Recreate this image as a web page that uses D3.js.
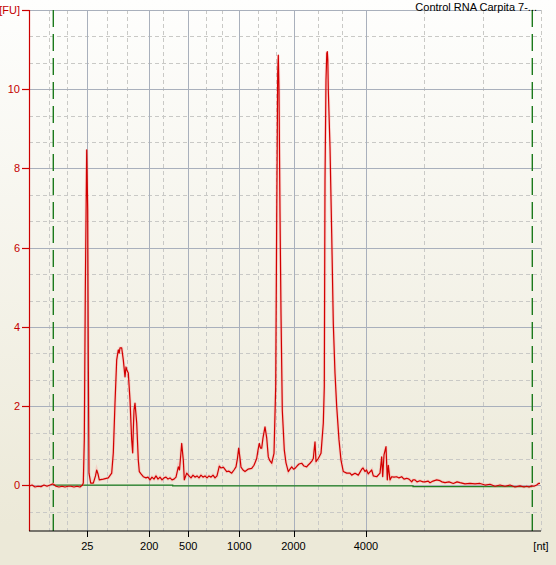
<!DOCTYPE html>
<html>
<head>
<meta charset="utf-8">
<script src="https://cdn.jsdelivr.net/npm/d3@7"></script>
<style>
  html, body { margin: 0; padding: 0; background: #ece9d8; }
  svg { display: block; }
  text { font-family: "Liberation Sans", Arial, sans-serif; font-size: 11px; }
</style>
</head>
<body>
<svg id="chart"></svg>
<script>
// electropherogram, x is migration time (s), labels are ladder sizes in nt
const timeSec = [
  17.00, 17.30, 17.60, 17.90, 18.20, 18.50, 18.80, 19.10, 19.40, 19.70,
  20.00, 20.30, 20.60, 20.90, 21.20, 21.50, 21.80, 22.10, 22.35, 22.43,
  22.53, 22.63, 22.77, 22.87, 22.93, 23.00, 23.17, 23.43, 23.65, 23.77,
  23.90, 24.03, 24.43, 24.93, 25.27, 25.43, 25.60, 25.77, 25.93, 26.02,
  26.10, 26.27, 26.43, 26.60, 26.70, 26.77, 26.93, 27.10, 27.27, 27.37,
  27.43, 27.50, 27.60, 27.77, 27.93, 28.03, 28.20, 28.43, 28.70, 28.90,
  29.10, 29.30, 29.50, 29.70, 29.90, 30.10, 30.30, 30.50, 30.70, 30.90,
  31.10, 31.30, 31.50, 31.70, 31.93, 32.05, 32.27, 32.43, 32.53, 32.77,
  33.00, 33.20, 33.40, 33.60, 33.80, 34.00, 34.20, 34.40, 34.60, 34.80,
  35.00, 35.20, 35.40, 35.60, 35.80, 36.03, 36.20, 36.43, 36.77, 37.00,
  37.27, 37.50, 37.70, 37.85, 37.97, 38.10, 38.20, 38.40, 38.60, 38.90,
  39.27, 39.50, 39.77, 39.90, 40.03, 40.15, 40.27, 40.40, 40.60, 40.77,
  40.93, 41.05, 41.27, 41.50, 41.67, 41.77, 41.87, 41.93, 42.00, 42.10,
  42.20, 42.33, 42.53, 42.70, 42.93, 43.10, 43.27, 43.45, 43.60, 43.80,
  44.00, 44.27, 44.50, 44.77, 44.90, 45.10, 45.30, 45.43, 45.53, 45.60,
  45.70, 45.93, 46.20, 46.43, 46.53, 46.60, 46.70, 46.78, 46.83, 46.88,
  46.93, 47.10, 47.27, 47.43, 47.60, 47.77, 48.00, 48.20, 48.43, 48.77,
  49.10, 49.27, 49.60, 49.93, 50.27, 50.40, 50.60, 50.75, 50.93, 51.10,
  51.27, 51.43, 51.77, 52.10, 52.27, 52.37, 52.50, 52.70, 52.83, 52.93,
  53.10, 53.27, 53.50, 53.77, 54.00, 54.27, 54.50, 54.77, 55.00, 55.27,
  55.40, 55.60, 55.80, 56.10, 56.40, 56.60, 56.90, 57.10, 57.40, 57.77,
  58.10, 58.30, 58.60, 59.00, 59.43, 59.80, 60.10, 60.60, 61.10, 61.60,
  62.10, 62.60, 63.10, 63.60, 64.10, 64.60, 65.10, 65.60, 66.10, 66.50,
  66.77, 67.00, 67.27, 67.50, 67.77, 67.95, 68.10
];
const fluor = [
  -0.02, 0.01, -0.04, -0.02, -0.03, 0.01, -0.02, 0.01, 0.04, -0.02,
  -0.04, -0.02, -0.04, -0.02, -0.02, -0.04, -0.02, -0.04, 0.01, 0.06,
  1.15, 4.86, 8.47, 6.95, 3.17, 0.31, 0.06, 0.06, 0.24, 0.39,
  0.29, 0.14, 0.16, 0.19, 0.31, 0.82, 2.08, 3.17, 3.42, 3.34,
  3.47, 3.47, 3.17, 2.74, 2.99, 2.92, 2.84, 2.16, 1.14, 0.82,
  1.40, 1.90, 2.08, 1.58, 0.64, 0.35, 0.29, 0.22, 0.19, 0.21,
  0.14, 0.21, 0.16, 0.24, 0.16, 0.21, 0.14, 0.19, 0.21, 0.16,
  0.19, 0.14, 0.16, 0.21, 0.47, 0.39, 1.06, 0.64, 0.14, 0.31,
  0.24, 0.19, 0.26, 0.21, 0.24, 0.19, 0.26, 0.21, 0.24, 0.19,
  0.24, 0.21, 0.26, 0.19, 0.24, 0.49, 0.44, 0.46, 0.35, 0.36,
  0.31, 0.39, 0.47, 0.69, 0.94, 0.69, 0.46, 0.39, 0.35, 0.41,
  0.43, 0.51, 0.68, 0.89, 1.06, 0.94, 0.94, 1.20, 1.48, 1.20,
  0.72, 0.64, 0.56, 0.81, 2.49, 6.70, 10.40, 10.86, 9.98, 6.87,
  4.34, 1.90, 0.89, 0.57, 0.35, 0.41, 0.47, 0.41, 0.43, 0.49,
  0.54, 0.56, 0.49, 0.47, 0.51, 0.56, 0.62, 0.68, 0.94, 1.10,
  0.60, 0.68, 0.81, 1.57, 2.49, 7.71, 10.23, 10.91, 10.95, 10.74,
  9.98, 8.55, 6.36, 4.09, 2.83, 1.99, 1.15, 0.64, 0.35, 0.31,
  0.31, 0.26, 0.31, 0.26, 0.41, 0.44, 0.35, 0.39, 0.29, 0.34,
  0.39, 0.24, 0.22, 0.31, 0.72, 0.22, 0.77, 0.98, 0.14, 0.51,
  0.14, 0.22, 0.21, 0.22, 0.19, 0.22, 0.16, 0.18, 0.16, 0.09,
  0.14, 0.14, 0.09, 0.12, 0.09, 0.09, 0.11, 0.07, 0.11, 0.14,
  0.12, 0.09, 0.07, 0.09, 0.05, 0.09, 0.07, 0.04, 0.05, 0.04,
  0.05, 0.01, 0.03, -0.02, 0.01, -0.02, 0.01, -0.04, -0.01, -0.04,
  -0.02, -0.04, -0.01, -0.02, 0.01, 0.05, 0.05
];

// baseline drawn by the software (small steps)
const baseTime = [19.43, 31.37, 31.37, 55.40, 55.40, 67.33];
const baseValue = [0.01, 0.01, -0.01, -0.01, -0.03, -0.03];

// ladder positions and labels
const ladderTime = [22.83, 29.03, 32.93, 38.03, 43.45, 50.70];
const ladderLabels = ['25', '200', '500', '1000', '2000', '4000'];
const minorTime = [18.97, 20.83, 24.83, 26.83, 30.37, 34.67, 36.33, 39.87,
                   41.67, 45.93, 48.33, 56.53, 62.37, 68.20];
const markerTime = [19.43, 67.33];   // lower / upper marker lines
const yTicks = [0, 2, 4, 6, 8, 10];

const title = 'Control RNA Carpita 7-...';

const W = 556, H = 565;
const svg = d3.select('#chart').attr('width', W).attr('height', H);

const x = d3.scaleLinear().domain([17, 68.2]).range([29, 541]);
const y = d3.scaleLinear().domain([-1.15, 12]).range([531, 10]);

// background gradient, white at the top fading into the window colour
const grad = svg.append('defs').append('linearGradient')
    .attr('id', 'bg').attr('x1', 0).attr('y1', 0).attr('x2', 0).attr('y2', 1);
grad.append('stop').attr('offset', '0%').attr('stop-color', '#fefefd');
grad.append('stop').attr('offset', '93%').attr('stop-color', '#ece9d8');
grad.append('stop').attr('offset', '100%').attr('stop-color', '#ece9d8');
svg.append('rect').attr('width', W).attr('height', H).attr('fill', 'url(#bg)');

const grid = svg.append('g');

// minor grid, every third of a major step
let yMinor = d3.range(-1, 19).map(k => k * 2 / 3).filter((v, i) => (i + 2) % 3 !== 0 && v <= 12);
grid.selectAll('line.hminor')
    .data(yMinor)
    .join('line')
    .attr('x1', x.range()[0]).attr('x2', x.range()[1])
    .attr('y1', d => Math.round(y(d)) + 0.5).attr('y2', d => Math.round(y(d)) + 0.5)
    .attr('stroke', '#c9c9c6').attr('stroke-dasharray', '4,3');

grid.selectAll('line.vminor')
    .data(minorTime)
    .join('line')
    .attr('x1', d => Math.round(x(d)) + 0.5).attr('x2', d => Math.round(x(d)) + 0.5)
    .attr('y1', y.range()[1]).attr('y2', y.range()[0])
    .attr('stroke', '#c9c9c6').attr('stroke-dasharray', '4,3');

// major grid
grid.selectAll('line.hmajor')
    .data(yTicks.concat([12]))
    .join('line')
    .attr('x1', x.range()[0]).attr('x2', x.range()[1])
    .attr('y1', d => Math.round(y(d)) + 0.5).attr('y2', d => Math.round(y(d)) + 0.5)
    .attr('stroke', '#a9b0bc');

grid.selectAll('line.vmajor')
    .data(ladderTime)
    .join('line')
    .attr('x1', d => Math.round(x(d)) + 0.5).attr('x2', d => Math.round(x(d)) + 0.5)
    .attr('y1', y.range()[1]).attr('y2', y.range()[0])
    .attr('stroke', '#a9b0bc');

// marker lines
svg.selectAll('line.marker')
    .data(markerTime)
    .join('line')
    .attr('x1', d => x(d)).attr('x2', d => x(d))
    .attr('y1', y.range()[1]).attr('y2', y.range()[0])
    .attr('stroke', '#1c7a1c').attr('stroke-width', 1.4)
    .attr('stroke-dasharray', '17,7');

// baseline
let baseLine = d3.line().x(d => x(d[0])).y(d => y(d[1]));
svg.append('path')
    .datum(d3.zip(baseTime, baseValue))
    .attr('d', baseLine)
    .attr('fill', 'none')
    .attr('stroke', '#1f801f')
    .attr('stroke-width', 1.3);

// trace, with a faint halo like the original antialiasing
let trace = d3.line().x(d => x(d[0])).y(d => y(d[1]));
let pts = d3.zip(timeSec, fluor);
svg.append('path')
    .datum(pts)
    .attr('d', trace)
    .attr('fill', 'none')
    .attr('stroke', '#ff8080')
    .attr('stroke-opacity', 0.25)
    .attr('stroke-width', 3);
svg.append('path')
    .datum(pts)
    .attr('d', trace)
    .attr('fill', 'none')
    .attr('stroke', '#d20000')
    .attr('stroke-width', 1.2)
    .attr('stroke-linejoin', 'round');

// y axis (red)
const yAxis = svg.append('g');
yAxis.append('line')
    .attr('x1', 29.5).attr('x2', 29.5)
    .attr('y1', y.range()[1]).attr('y2', y.range()[0])
    .attr('stroke', '#cc0000').attr('stroke-width', 1.2);
yAxis.selectAll('line.tick')
    .data(yTicks.concat([12]))
    .join('line')
    .attr('x1', 22).attr('x2', 29.5)
    .attr('y1', d => Math.round(y(d)) + 0.5).attr('y2', d => Math.round(y(d)) + 0.5)
    .attr('stroke', '#cc0000').attr('stroke-width', 1.2);
yAxis.selectAll('text')
    .data(yTicks.map(String).concat(['[FU]']))
    .join('text')
    .attr('x', 20)
    .attr('y', (d, i) => y(i < yTicks.length ? yTicks[i] : 12))
    .attr('dy', '0.36em')
    .attr('text-anchor', 'end')
    .attr('fill', '#c40000')
    .text(d => d);

// x axis (black)
const xAxis = svg.append('g');
xAxis.append('line')
    .attr('x1', 29).attr('x2', 541)
    .attr('y1', 531).attr('y2', 531)
    .attr('stroke', '#000').attr('stroke-width', 1.2);
xAxis.selectAll('line.tick')
    .data(ladderTime)
    .join('line')
    .attr('x1', d => Math.round(x(d)) + 0.5).attr('x2', d => Math.round(x(d)) + 0.5)
    .attr('y1', 531).attr('y2', 537)
    .attr('stroke', '#000');
xAxis.selectAll('text.lab')
    .data(ladderTime)
    .join('text')
    .attr('x', d => x(d))
    .attr('y', 550)
    .attr('text-anchor', 'middle')
    .attr('fill', '#000')
    .text((d, i) => ladderLabels[i]);
xAxis.append('text')
    .attr('x', 541).attr('y', 550)
    .attr('text-anchor', 'middle')
    .text('[nt]');

// sample name
svg.append('text')
    .attr('x', 537).attr('y', 11)
    .attr('text-anchor', 'end')
    .attr('fill', '#000')
    .text(title);
</script>
</body>
</html>
